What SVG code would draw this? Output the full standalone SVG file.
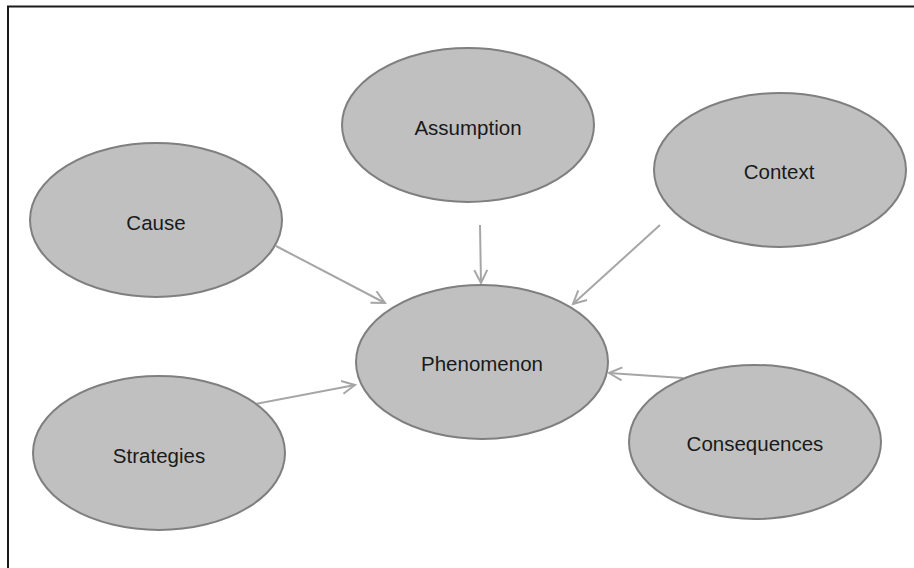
<svg xmlns="http://www.w3.org/2000/svg" width="914" height="568" viewBox="0 0 914 568">
  <style>
    .node ellipse { fill: #c0c0c0; stroke: #7f7f7f; stroke-width: 2; }
    .node text { font-family: "Liberation Sans", Arial, sans-serif; font-size: 20.5px; fill: #1a1a1a; text-anchor: middle; dominant-baseline: central; }
    .edge { stroke: #a6a6a6; stroke-width: 2; fill: none; marker-end: url(#arrow); }
  </style>
  <defs>
    <marker id="arrow" viewBox="0 0 16 16" refX="14" refY="8" markerWidth="16" markerHeight="16" markerUnits="userSpaceOnUse" orient="auto">
      <path d="M1,1.5 L14,8 L1,14.5" fill="none" stroke="#a6a6a6" stroke-width="2"/>
    </marker>
  </defs>
  <rect width="914" height="568" fill="#ffffff"/>
  <!-- frame: only top and left edges fall inside the canvas -->
  <rect x="8" y="6.5" width="930" height="590" fill="none" stroke="#1a1a1a" stroke-width="2"/>

  <g id="connectors">
    <line class="edge" x1="276" y1="246" x2="385" y2="303"/>
    <line class="edge" x1="480" y1="225" x2="481" y2="283"/>
    <line class="edge" x1="660" y1="225" x2="573" y2="304"/>
    <line class="edge" x1="250" y1="405" x2="355" y2="385"/>
    <line class="edge" x1="683" y1="378" x2="609" y2="373"/>
  </g>

  <g id="assumption" class="node">
    <ellipse cx="468" cy="125" rx="126" ry="77"/>
    <text x="468" y="127">Assumption</text>
  </g>
  <g id="context" class="node">
    <ellipse cx="780" cy="170" rx="126" ry="77"/>
    <text x="779" y="171">Context</text>
  </g>
  <g id="cause" class="node">
    <ellipse cx="156" cy="220" rx="126" ry="77"/>
    <text x="156" y="222">Cause</text>
  </g>
  <g id="phenomenon" class="node">
    <ellipse cx="482" cy="362" rx="126" ry="77"/>
    <text x="482" y="363">Phenomenon</text>
  </g>
  <g id="strategies" class="node">
    <ellipse cx="159" cy="453" rx="126" ry="77"/>
    <text x="159" y="455">Strategies</text>
  </g>
  <g id="consequences" class="node">
    <ellipse cx="755" cy="442" rx="126" ry="77"/>
    <text x="755" y="443">Consequences</text>
  </g>
</svg>
